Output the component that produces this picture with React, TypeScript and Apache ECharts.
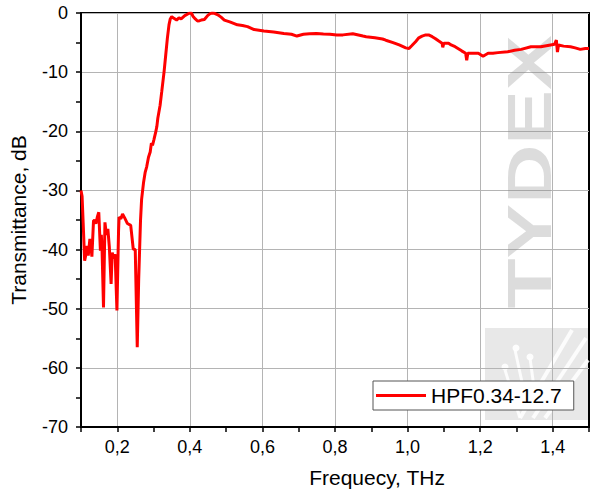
import React, { useEffect, useRef } from "react";
import * as echarts from "echarts";

const frequency: number[] = [
  0.100, 0.103, 0.106, 0.110, 0.114, 0.117, 0.120, 0.1245, 0.127, 0.130,
  0.1345, 0.137, 0.141, 0.145, 0.149, 0.1535, 0.156, 0.158, 0.162, 0.166,
  0.170, 0.174, 0.178, 0.183, 0.186, 0.190, 0.194, 0.199, 0.2035, 0.205,
  0.210, 0.2145, 0.220, 0.228, 0.237, 0.244, 0.2495, 0.255, 0.259, 0.264,
  0.267, 0.2725, 0.277, 0.281, 0.286, 0.2907, 0.294, 0.297, 0.301, 0.306,
  0.309, 0.3117, 0.318, 0.3225, 0.329, 0.3335, 0.338, 0.3425, 0.346, 0.350,
  0.356, 0.3635, 0.370, 0.376, 0.386, 0.398, 0.404, 0.409, 0.415, 0.421,
  0.427, 0.4315, 0.440, 0.4495, 0.456, 0.4615, 0.468, 0.477, 0.486, 0.495,
  0.510, 0.531, 0.545, 0.559, 0.577, 0.604, 0.631, 0.659, 0.680, 0.695,
  0.713, 0.730, 0.749, 0.768, 0.786, 0.805, 0.822, 0.849, 0.877, 0.886,
  0.910, 0.931, 0.940, 0.960, 0.977, 0.995, 1.004, 1.012, 1.022, 1.031,
  1.040, 1.050, 1.058, 1.068, 1.076, 1.085, 1.095, 1.097, 1.100, 1.113,
  1.120, 1.131, 1.149, 1.160, 1.163, 1.166, 1.180, 1.195, 1.208, 1.222,
  1.235, 1.249, 1.276, 1.295, 1.313, 1.340, 1.367, 1.394, 1.405, 1.410,
  1.413, 1.416, 1.430, 1.449, 1.462, 1.476, 1.490, 1.500,
];

const transmittance: number[] = [
  -30.0, -31.0, -35.5, -41.9, -40.7, -39.4, -41.0, -38.2, -39.0, -41.2,
  -35.1, -35.1, -35.6, -34.5, -33.7, -40.2, -37.5, -40.0, -49.8, -35.4,
  -37.5, -36.5, -39.5, -45.8, -40.5, -41.5, -40.8, -50.3, -36.8, -34.5,
  -34.8, -34.0, -34.6, -35.6, -35.9, -39.9, -40.0, -56.5, -45.0, -35.1,
  -31.5, -28.6, -26.9, -26.0, -24.4, -23.5, -22.0, -22.4, -21.4, -20.1,
  -19.2, -17.8, -15.6, -13.3, -9.9, -7.1, -4.3, -2.0, -1.0, -0.6,
  -0.9, -1.2, -0.8, -1.0, -0.45, -0.05, 0, -0.6, -1.0, -1.35,
  -1.3, -1.2, -1.1, -0.4, -0.1, 0, -0.05, -0.3, -0.7, -1.2,
  -1.5, -2.0, -2.1, -2.3, -2.8, -3.05, -3.2, -3.45, -3.6, -3.9,
  -3.6, -3.5, -3.45, -3.55, -3.6, -3.7, -3.7, -3.5, -3.9, -4.0,
  -4.2, -4.4, -4.6, -5.0, -5.4, -5.9, -6.0, -5.5, -4.85, -4.2,
  -3.9, -3.7, -3.7, -4.0, -4.3, -4.7, -5.1, -5.8, -5.1, -5.1,
  -5.4, -5.7, -6.4, -6.8, -8.0, -6.8, -6.8, -6.8, -7.3, -6.8,
  -6.8, -6.7, -6.55, -6.3, -6.15, -5.7, -5.7, -5.4, -5.3, -4.6,
  -6.6, -5.4, -5.6, -5.7, -5.9, -6.15, -6.0, -6.0,
];

const seriesName = "HPF0.34-12.7";
const xAxisName = "Frequecy, THz";
const yAxisName = "Transmittance, dB";
const watermark = "TYDEX";

const FONT = "'Liberation Sans', Arial, Helvetica, sans-serif";

export default function App() {
  const ref = useRef<HTMLDivElement>(null);

  useEffect(() => {
    document.body.style.margin = "0";
    if (!ref.current) return;
    const chart = echarts.init(ref.current, null, { renderer: "svg" });
    const data = frequency.map((f, i) => [f, transmittance[i]]);

    const option: any = {
      animation: false,
      backgroundColor: "#fff",
      textStyle: { fontFamily: FONT },
      grid: {
        left: 75,
        right: 11,
        top: 13,
        bottom: 69,
        show: true,
        borderColor: "#000",
        borderWidth: 2,
        backgroundColor: "transparent",
      },
      legend: {
        left: 373,
        top: 381,
        padding: [4, 12, 4, 3],
        backgroundColor: "#fff",
        borderColor: "#555",
        borderWidth: 1,
        borderRadius: 0,
        itemWidth: 50,
        itemHeight: 3,
        icon: "rect",
        textStyle: { fontSize: 21, color: "#000", fontFamily: FONT },
        data: [seriesName],
        z: 10,
      },
      xAxis: {
        type: "value",
        min: 0.1,
        max: 1.5,
        interval: 0.1,
        name: xAxisName,
        nameLocation: "middle",
        nameGap: 40,
        nameTextStyle: { fontSize: 21, color: "#000", fontFamily: FONT, padding: [0, 0, 0, 84] },
        axisLine: { show: true, onZero: false, lineStyle: { color: "#000", width: 2 } },
        axisTick: { show: true, inside: false, length: 5, lineStyle: { color: "#000", width: 1.5 } },
        axisLabel: {
          margin: 11,
          fontSize: 18,
          color: "#000",
          fontFamily: FONT,
          showMinLabel: true,
          showMaxLabel: true,
          formatter: (v: number) => {
            const k = Math.round(v * 10);
            return k % 2 === 0 ? (k / 10).toFixed(1).replace(".", ",") : "";
          },
        },
        splitLine: {
          show: true,
          lineStyle: { color: ["rgba(0,0,0,0)", "#b4b4b4"], width: 1 },
        },
      },
      yAxis: {
        type: "value",
        min: -70,
        max: 0,
        interval: 5,
        name: yAxisName,
        nameLocation: "middle",
        nameGap: 52,
        nameTextStyle: { fontSize: 21, color: "#000", fontFamily: FONT },
        axisLine: { show: true, onZero: false, lineStyle: { color: "#000", width: 2 } },
        axisTick: { show: true, inside: false, length: 5, lineStyle: { color: "#000", width: 1.5 } },
        axisLabel: {
          margin: 13,
          fontSize: 18,
          color: "#000",
          fontFamily: FONT,
          formatter: (v: number) => (Math.round(v) % 10 === 0 ? String(Math.round(v)) : ""),
        },
        splitLine: {
          show: true,
          lineStyle: { color: ["#b4b4b4", "rgba(0,0,0,0)"], width: 1 },
        },
      },
      graphic: [
        {
          type: "text",
          x: 529,
          y: 172,
          rotation: Math.PI / 2,
          scaleX: 1.3,
          z: 1,
          silent: true,
          style: {
            text: watermark,
            font: `bold 63px ${FONT}`,
            fill: "rgba(140,140,140,0.3)",
            align: "center",
            verticalAlign: "middle",
          },
        },
        {
          type: "group",
          z: 1,
          silent: true,
          children: [
            {
              type: "rect",
              shape: { x: 485, y: 328, width: 103, height: 92 },
              style: { fill: "rgba(150,150,150,0.22)" },
            },
            { type: "line", shape: { x1: 520, y1: 418, x2: 572, y2: 330 }, style: { stroke: "rgba(255,255,255,0.85)", lineWidth: 4 } },
            { type: "line", shape: { x1: 533, y1: 418, x2: 586, y2: 338 }, style: { stroke: "rgba(255,255,255,0.85)", lineWidth: 4 } },
            { type: "line", shape: { x1: 545, y1: 418, x2: 588, y2: 360 }, style: { stroke: "rgba(255,255,255,0.85)", lineWidth: 4 } },
            { type: "line", shape: { x1: 520, y1: 418, x2: 505, y2: 370 }, style: { stroke: "rgba(255,255,255,0.85)", lineWidth: 3 } },
            { type: "line", shape: { x1: 527, y1: 405, x2: 515, y2: 350 }, style: { stroke: "rgba(255,255,255,0.85)", lineWidth: 3 } },
            { type: "line", shape: { x1: 535, y1: 395, x2: 530, y2: 358 }, style: { stroke: "rgba(255,255,255,0.85)", lineWidth: 3 } },
            { type: "circle", shape: { cx: 516, cy: 348, r: 3.5 }, style: { fill: "rgba(255,255,255,0.9)" } },
            { type: "circle", shape: { cx: 530, cy: 357, r: 3.5 }, style: { fill: "rgba(255,255,255,0.9)" } },
            { type: "circle", shape: { cx: 505, cy: 367, r: 3.5 }, style: { fill: "rgba(255,255,255,0.9)" } },
          ],
        },
      ],
      series: [
        {
          name: seriesName,
          type: "line",
          data,
          symbol: "none",
          showSymbol: false,
          smooth: false,
          clip: true,
          z: 3,
          lineStyle: { color: "#ff0000", width: 3 },
          itemStyle: { color: "#ff0000" },
        },
      ],
    };

    chart.setOption(option);
    return () => chart.dispose();
  }, []);

  return <div ref={ref} style={{ width: 600, height: 496 }} />;
}
